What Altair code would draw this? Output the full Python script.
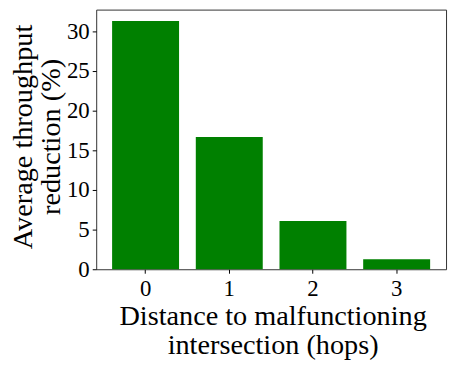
import altair as alt
import pandas as pd

hops = ["0", "1", "2", "3"]
reduction = [31.3, 16.67, 6.09, 1.25]
y_ticks = [0, 5, 10, 15, 20, 25, 30]

df = pd.DataFrame({"hops": hops, "reduction": reduction})

FONT = "Liberation Serif"

chart = alt.Chart(df).mark_bar(color="#008000").encode(
    x=alt.X(
        "hops:N",
        sort=hops,
        scale=alt.Scale(paddingInner=0.2, paddingOuter=0.19),
        axis=alt.Axis(
            title=["Distance to malfunctioning", "intersection (hops)"],
            labelAngle=0,
            labelFont=FONT,
            labelFontSize=23,
            labelColor="#000",
            labelPadding=4,
            tickSize=4,
            tickColor="#000",
            domain=False,
            titleFont=FONT,
            titleFontSize=28.5,
            titleFontWeight="normal",
            titleColor="#000",
            titleLineHeight=29,
            titleBaseline="alphabetic",
            titleAlign="center",
            titleX=178,
            titleY=56,
        ),
    ),
    y=alt.Y(
        "reduction:Q",
        scale=alt.Scale(domain=[0, 32.75], nice=False, zero=True),
        axis=alt.Axis(
            values=y_ticks,
            title=["Average throughput", "reduction (%)"],
            labelFont=FONT,
            labelFontSize=23,
            labelColor="#000",
            labelPadding=3,
            tickSize=4,
            tickColor="#000",
            grid=False,
            domain=False,
            titleFont=FONT,
            titleFontSize=28.5,
            titleFontWeight="normal",
            titleColor="#000",
            titleLineHeight=28,
            titleAngle=270,
            titleBaseline="alphabetic",
            titleAlign="center",
            titleX=-65,
            titleY=128,
        ),
    ),
).properties(
    width=353,
    height=262,
    autosize=alt.AutoSizeParams(type="none"),
    padding={"left": 89, "top": 0, "right": 4, "bottom": 95},
).configure_view(
    stroke="#333",
    strokeWidth=1,
)

chart.save("out.html", embed_options={"renderer": "svg", "actions": False})
